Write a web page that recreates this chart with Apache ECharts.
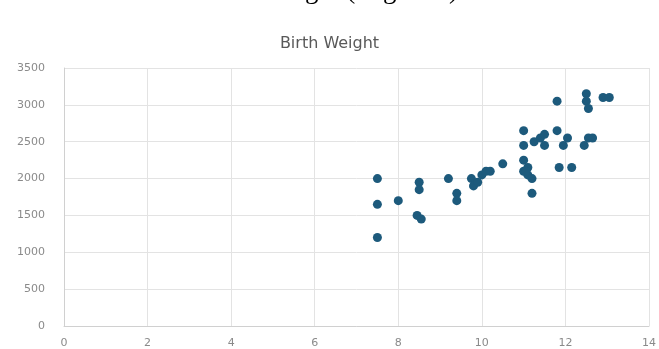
<!DOCTYPE html>
<html>
<head>
<meta charset="utf-8">
<script src="https://cdn.jsdelivr.net/npm/echarts@6/dist/echarts.min.js"></script>
<style>
  html, body { margin: 0; padding: 0; background: #fff; }
  #main { width: 659px; height: 349px; }
</style>
</head>
<body>
<div id="main"></div>
<script>
// gestational age (x) vs birth weight in grams (y)
var ageVals = [7.5, 7.5, 7.5, 8, 8.5, 8.5, 8.45, 8.55, 9.2, 9.4, 9.4,
  9.75, 9.8, 9.9, 10, 10.1, 10.2, 10.5,
  11, 11, 11, 11, 11.1, 11.1, 11.2, 11.05, 11.2, 11.25, 11.4, 11.5, 11.5,
  11.8, 11.8, 11.85, 12.15, 11.95, 12.05,
  12.5, 12.5, 12.55, 12.9, 13.05, 12.45, 12.55, 12.65];
var weightVals = [2000, 1650, 1200, 1700, 1950, 1850, 1500, 1450, 2000, 1800, 1700,
  2000, 1900, 1950, 2050, 2100, 2100, 2200,
  2650, 2450, 2250, 2100, 2150, 2050, 2000, 2100, 1800, 2500, 2550, 2600, 2450,
  2650, 3050, 2150, 2150, 2450, 2550,
  3150, 3050, 2950, 3100, 3100, 2450, 2550, 2550];
var xTicks = [0, 14, 2];
var yTicks = [0, 3500, 500];

var points = [];
for (var i = 0; i < ageVals.length; i++) {
    points.push([ageVals[i], weightVals[i]]);
}

var chart = echarts.init(document.getElementById('main'));
var option = {
    animation: false,
    title: {
        text: 'Birth Weight',
        left: 'center',
        top: 31,
        textStyle: {
            color: '#595959',
            fontSize: 16,
            fontWeight: 'normal',
            fontFamily: 'DejaVu Sans'
        }
    },
    // caption of the page above the chart, mostly cut off at the top edge
    graphic: [{
        type: 'text',
        left: 200,
        top: -23,
        style: {
            text: 'Birth Weight (in grams)',
            fill: '#000',
            font: '27px "Liberation Serif"'
        }
    }],
    grid: {
        left: 64,
        right: 8,
        top: 68,
        bottom: 22
    },
    xAxis: {
        type: 'value',
        min: xTicks[0],
        max: xTicks[1],
        interval: xTicks[2],
        axisLine: { show: true, lineStyle: { color: '#d0d0d0' } },
        axisTick: { show: false },
        axisLabel: { color: '#8a8a8a', fontSize: 11, margin: 12, fontFamily: 'DejaVu Sans' },
        splitLine: { show: true, lineStyle: { color: '#e3e3e3' } }
    },
    yAxis: {
        type: 'value',
        min: yTicks[0],
        max: yTicks[1],
        interval: yTicks[2],
        axisLine: { show: true, lineStyle: { color: '#d0d0d0' } },
        axisTick: { show: false },
        axisLabel: {
            color: '#8a8a8a',
            fontSize: 11,
            margin: 19,
            fontFamily: 'DejaVu Sans',
            formatter: function (v) { return String(v); }
        },
        splitLine: { show: true, lineStyle: { color: '#e3e3e3' } }
    },
    series: [{
        type: 'scatter',
        data: points,
        symbolSize: 9,
        itemStyle: { color: '#1d5a7c', opacity: 1 }
    }]
};
chart.setOption(option);
</script>
</body>
</html>
